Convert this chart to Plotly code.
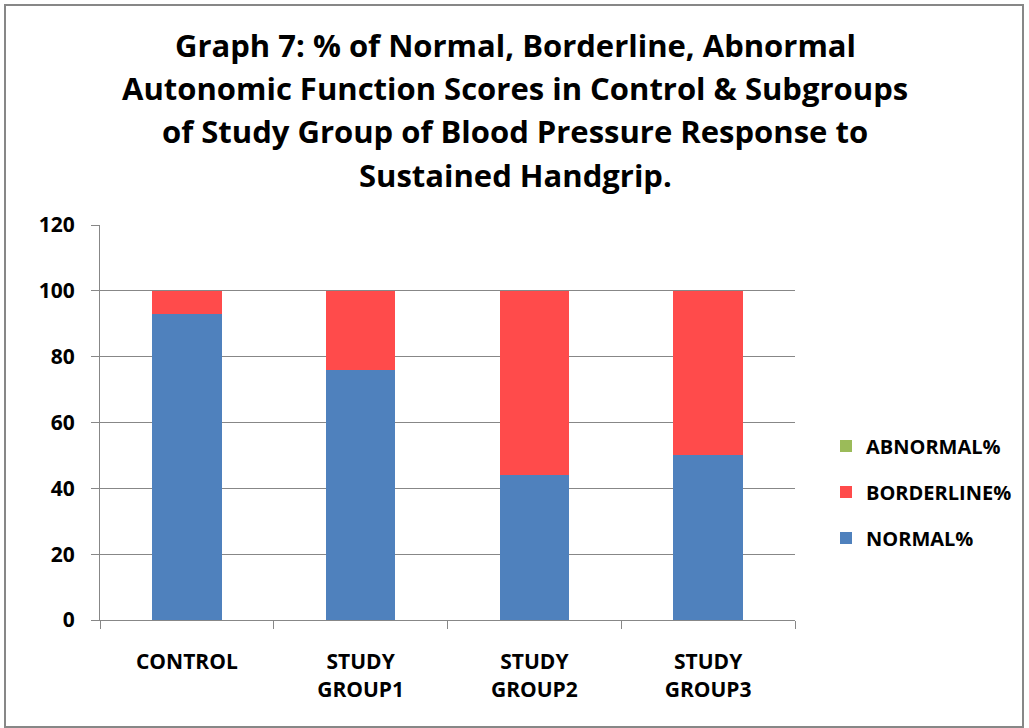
import plotly.graph_objects as go

categories = ["CONTROL", "STUDY<br>GROUP1", "STUDY<br>GROUP2", "STUDY<br>GROUP3"]
normal_pct = [93, 76, 44, 50]
borderline_pct = [7, 24, 56, 50]
abnormal_pct = [0, 0, 0, 0]
y_ticks = [0, 20, 40, 60, 80, 100, 120]
title_lines = [
    "Graph 7: % of Normal, Borderline, Abnormal",
    "Autonomic Function Scores in Control & Subgroups",
    "of Study Group of Blood Pressure Response to",
    "Sustained Handgrip.",
]

FONT = "Open Sans"
BOLD = dict(family=FONT, weight="bold", color="#000000")

# pixel geometry of plot area
PL, PR, PT, PB = 100, 795, 225, 620
PW, PH = PR - PL, PB - PT


def py(pix):
    return (PB - pix) / PH


def px(pix):
    return (pix - PL) / PW


fig = go.Figure()
fig.add_trace(go.Bar(x=categories, y=normal_pct, name="NORMAL%", legendrank=3,
                     marker=dict(color="#4F81BD", line=dict(width=0)), legendgroup="n"))
fig.add_trace(go.Bar(x=categories, y=borderline_pct, name="BORDERLINE%", legendrank=2,
                     marker=dict(color="#FF4B4B", line=dict(width=0)), legendgroup="b"))
fig.add_trace(go.Bar(x=categories, y=abnormal_pct, name="ABNORMAL%", legendrank=1,
                     marker=dict(color="#9BBB59", line=dict(width=0)), legendgroup="a"))

fig.update_layout(
    width=1029, height=728,
    barmode="stack", bargap=0.6,
    paper_bgcolor="white", plot_bgcolor="white",
    margin=dict(l=PL, r=1029 - PR, t=PT, b=728 - PB, autoexpand=False),
    font=dict(family=FONT, color="#000000"),
    legend=dict(
        x=px(826), xanchor="left", y=py(492), yanchor="middle",
        traceorder="grouped", tracegroupgap=17,
        font=dict(size=20, **BOLD),
        itemwidth=30,
    ),
    showlegend=True,
)

for i, line in enumerate(title_lines):
    fig.add_annotation(text=line, xref="paper", yref="paper",
                       x=px(515), y=py([45, 88, 131, 175][i]),
                       xanchor="center", yanchor="middle", showarrow=False,
                       font=dict(size=31, **BOLD))

fig.update_xaxes(
    showline=True, linecolor="#878787", linewidth=1,
    ticks="outside", tickson="boundaries", ticklen=8, tickcolor="#878787",
    tickfont=dict(size=21, **BOLD), ticklabelstandoff=23,
    showgrid=False,
)
fig.update_yaxes(
    range=[0, 120], tickvals=y_ticks,
    showline=True, linecolor="#878787", linewidth=1,
    ticks="outside", ticklen=8, tickcolor="#878787",
    showgrid=True, gridcolor="#878787", gridwidth=1,
    tickfont=dict(size=21, **BOLD), ticklabelstandoff=12,
    zeroline=False,
)

# outer chart border
fig.add_shape(type="rect", xref="paper", yref="paper",
              x0=px(5), x1=px(1023), y0=py(727), y1=py(5),
              line=dict(color="#878787", width=2), layer="below")

fig.write_html("out.html")
